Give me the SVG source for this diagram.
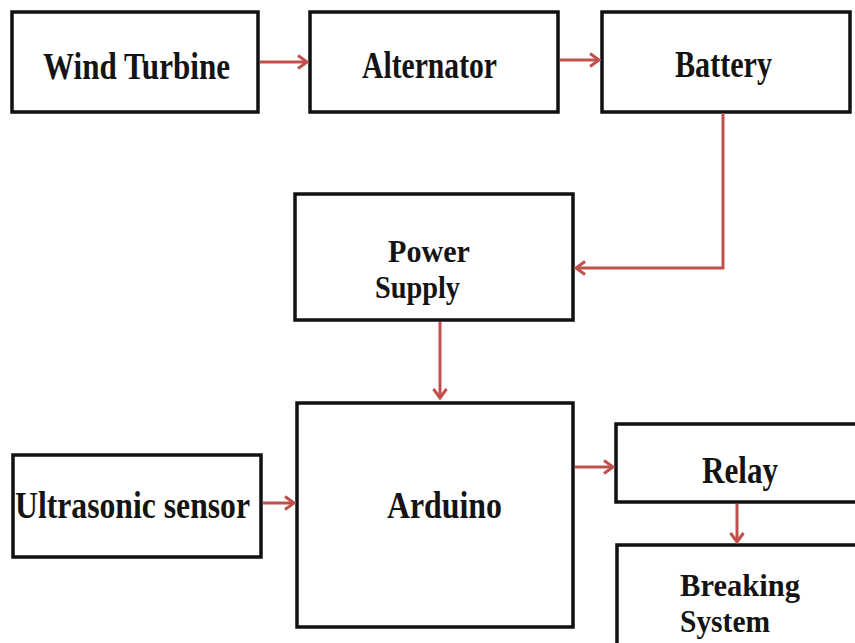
<svg xmlns="http://www.w3.org/2000/svg" width="855" height="643" viewBox="0 0 855 643">
<style>
.box{fill:#fff;stroke:#111;stroke-width:3.5}
.lbl{font-family:"Liberation Serif","Times New Roman",serif;font-weight:bold;font-size:38px;fill:#141414}
.two{font-size:32px}
.con{fill:none;stroke:#c0504d;stroke-width:3}
</style>
<defs>
<marker id="ah" markerUnits="userSpaceOnUse" markerWidth="16" markerHeight="16" refX="12" refY="8" orient="auto">
<polyline points="3,1.5 12,8 3,14.5" fill="none" stroke="#c0504d" stroke-width="3"/>
</marker>
</defs>
<rect width="855" height="643" fill="#fff"/>
<g id="wind-turbine"><rect class="box" x="12" y="12" width="246" height="100"/><text class="lbl" x="43" y="79" textLength="187" lengthAdjust="spacingAndGlyphs">Wind Turbine</text></g>
<g id="alternator"><rect class="box" x="310" y="12" width="248" height="100"/><text class="lbl" x="362" y="78" textLength="135" lengthAdjust="spacingAndGlyphs">Alternator</text></g>
<g id="battery"><rect class="box" x="602" y="12" width="248" height="100"/><text class="lbl" x="675" y="77" textLength="97" lengthAdjust="spacingAndGlyphs">Battery</text></g>
<g id="power-supply"><rect class="box" x="295" y="194" width="278" height="126"/><text class="lbl two" x="388" y="262" textLength="82" lengthAdjust="spacingAndGlyphs">Power</text><text class="lbl two" x="375" y="298" textLength="85" lengthAdjust="spacingAndGlyphs">Supply</text></g>
<g id="ultrasonic-sensor"><rect class="box" x="13" y="455" width="248" height="102"/><text class="lbl" x="15" y="518" textLength="235" lengthAdjust="spacingAndGlyphs">Ultrasonic sensor</text></g>
<g id="arduino"><rect class="box" x="297" y="403" width="276" height="224"/><text class="lbl" x="387" y="518" textLength="115" lengthAdjust="spacingAndGlyphs">Arduino</text></g>
<g id="relay"><rect class="box" x="616" y="424" width="250" height="78"/><text class="lbl" x="702" y="483" textLength="76" lengthAdjust="spacingAndGlyphs">Relay</text></g>
<g id="breaking-system"><rect class="box" x="617" y="545" width="250" height="110"/><text class="lbl two" x="680" y="596" textLength="120" lengthAdjust="spacingAndGlyphs">Breaking</text><text class="lbl two" x="680" y="632" textLength="90" lengthAdjust="spacingAndGlyphs">System</text></g>
<g id="connectors">
<line class="con" x1="260" y1="62" x2="307" y2="62" marker-end="url(#ah)"/>
<line class="con" x1="560" y1="60" x2="599" y2="60" marker-end="url(#ah)"/>
<polyline class="con" points="723,113 723,268 576,268" marker-end="url(#ah)"/>
<line class="con" x1="440" y1="322" x2="440" y2="398" marker-end="url(#ah)"/>
<line class="con" x1="263" y1="503" x2="294" y2="503" marker-end="url(#ah)"/>
<line class="con" x1="575" y1="467" x2="613" y2="467" marker-end="url(#ah)"/>
<line class="con" x1="737" y1="504" x2="737" y2="542" marker-end="url(#ah)"/>
</g>
</svg>
